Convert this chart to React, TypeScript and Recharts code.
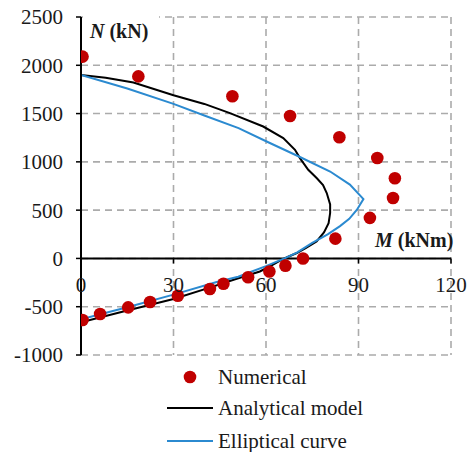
import React from "react";
import {
  ComposedChart,
  Line,
  Scatter,
  XAxis,
  YAxis,
  CartesianGrid,
  ReferenceLine,
  Legend,
  Customized,
} from "recharts";

// ---- data ----
const numericalM = [0.5, 18.6, 49.1, 67.8, 83.8, 96.1, 101.8, 101.2, 93.7, 82.5, 72, 66.3, 61.1, 54.2, 46.2, 41.8, 31.4, 22.4, 15.3, 6.2, 0.5];
const numericalN = [2090, 1885, 1680, 1475, 1255, 1040, 830, 625, 420, 205, 0, -75, -135, -195, -262, -317, -386, -451, -507, -576, -638];

const analyticalM = [0, 8, 17, 30, 40, 48.3, 59.1, 65.6, 69.4, 71, 73.7, 76.5, 78.5, 79.7, 80.8, 80.8, 80.3, 78.8, 76.4, 73, 70, 67, 65, 62, 58, 50, 42, 30, 15, 0];
const analyticalN = [1900, 1870, 1822, 1690, 1600, 1505, 1366, 1246, 1125, 1039, 918, 830, 760, 677, 560, 470, 366, 270, 176, 110, 56, 15, -15, -70, -135, -215, -300, -420, -540, -660];

const ellipticalM = [0, 15, 30, 40, 51.1, 60.2, 71, 80.8, 87.2, 91.6, 89.5, 87, 84, 80, 75, 70, 66, 60, 55, 51, 44, 30, 15, 0];
const ellipticalN = [1900, 1760, 1601, 1480, 1350, 1211, 1050, 900, 765, 615, 505, 410, 335, 250, 160, 60, 0, -80, -140, -190, -245, -375, -505, -630];

const xTicks = [0, 30, 60, 90, 120];
const yTicks = [-1000, -500, 0, 500, 1000, 1500, 2000, 2500];
const X_DOMAIN: [number, number] = [0, 120];
const Y_DOMAIN: [number, number] = [-1000, 2500];

const zip = (xs: number[], ys: number[]) => xs.map((x, i) => ({ x, y: ys[i] }));
const numericalData = zip(numericalM, numericalN);
const analyticalData = zip(analyticalM, analyticalN);
const ellipticalData = zip(ellipticalM, ellipticalN);

// ---- layout ----
const W = 469;
const H = 455;
const PLOT_TOP = 17;
const PLOT_BOTTOM = 355;
const PLOT_LEFT = 81;
const PLOT_RIGHT = 451;
const X_AXIS_H = 1;
const FONT = "'Liberation Serif', 'Times New Roman', serif";
const TEXT = "#1a1a1a";
const RED = "#C00000";
const BLUE = "#2B8AD0";

const zeroOffset = ((PLOT_BOTTOM - PLOT_TOP) * (0 - Y_DOMAIN[0])) / (Y_DOMAIN[1] - Y_DOMAIN[0]);

const XTick = (props: any) => {
  const { x, y, payload } = props;
  const zy = y - zeroOffset;
  return (
    <g>
      <line x1={x} x2={x} y1={zy} y2={zy + 5} stroke="#000" strokeWidth={1.5} />
      <text x={x} y={zy + 34} textAnchor="middle" fontSize={21} fontFamily={FONT} fill={TEXT}>
        {payload.value}
      </text>
    </g>
  );
};

const AxisTitles = () => (
  <g>
    <rect x={PLOT_LEFT + 2} y={8} width={76} height={30} fill="#fff" />
    <text x={90} y={38} fontSize={20} fontFamily={FONT} fontWeight="bold" fill={TEXT}>
      <tspan fontStyle="italic">N</tspan>
      <tspan> (kN)</tspan>
    </text>
    <text x={375} y={247} fontSize={20} fontFamily={FONT} fontWeight="bold" fill={TEXT}>
      <tspan fontStyle="italic">M</tspan>
      <tspan> (kNm)</tspan>
    </text>
  </g>
);

const LegendContent = () => (
  <svg width={W} height={92} style={{ display: "block" }}>
    <circle cx={190} cy={17} r={6.3} fill={RED} />
    <text x={218} y={17} dominantBaseline="central" fontSize={21} fontFamily={FONT} fill={TEXT}>
      Numerical
    </text>
    <line x1={167} x2={213} y1={48} y2={48} stroke="#000" strokeWidth={2} />
    <text x={218} y={48} dominantBaseline="central" fontSize={21} fontFamily={FONT} fill={TEXT}>
      Analytical model
    </text>
    <line x1={167} x2={213} y1={81} y2={81} stroke={BLUE} strokeWidth={2} />
    <text x={218} y={81} dominantBaseline="central" fontSize={21} fontFamily={FONT} fill={TEXT}>
      Elliptical curve
    </text>
  </svg>
);

export default function App() {
  return (
    <div style={{ position: "absolute", left: 0, top: 0, width: W, height: H, background: "#fff" }}>
      <ComposedChart
        width={W}
        height={H}
        margin={{ top: PLOT_TOP, right: W - PLOT_RIGHT, bottom: H - PLOT_BOTTOM - X_AXIS_H, left: 0 }}
      >
        <CartesianGrid stroke="#ABABAB" strokeWidth={1.6} strokeDasharray="7 5" />
        <XAxis
          type="number"
          dataKey="x"
          domain={X_DOMAIN}
          ticks={xTicks}
          allowDataOverflow
          height={X_AXIS_H}
          axisLine={false}
          tickLine={false}
          tickSize={0}
          tickMargin={0}
          tick={(p: any) => <XTick {...p} />}
          interval={0}
        />
        <YAxis
          type="number"
          dataKey="y"
          domain={Y_DOMAIN}
          ticks={yTicks}
          allowDataOverflow
          width={PLOT_LEFT}
          axisLine={{ stroke: "#000", strokeWidth: 2 }}
          tickLine={{ stroke: "#000", strokeWidth: 1.5 }}
          tickSize={5}
          tickMargin={13}
          interval={0}
          tick={{ fontSize: 21, fontFamily: FONT, fill: TEXT }}
        />
        <ReferenceLine y={0} stroke="#000" strokeWidth={2} />
        <Customized component={AxisTitles} />
        <Line
          data={analyticalData}
          dataKey="y"
          type="linear"
          stroke="#000"
          strokeWidth={2}
          dot={false}
          activeDot={false}
          isAnimationActive={false}
          name="Analytical model"
        />
        <Line
          data={ellipticalData}
          dataKey="y"
          type="linear"
          stroke={BLUE}
          strokeWidth={2}
          dot={false}
          activeDot={false}
          isAnimationActive={false}
          name="Elliptical curve"
        />
        <Scatter
          data={numericalData}
          dataKey="y"
          fill={RED}
          isAnimationActive={false}
          name="Numerical"
          shape={(p: any) => <circle cx={p.cx} cy={p.cy} r={6.3} fill={RED} />}
        />
        <Legend
          layout="vertical"
          align="center"
          verticalAlign="middle"
          content={<LegendContent />}
          wrapperStyle={{ position: "absolute", top: 360, left: 0, width: W }}
        />
      </ComposedChart>
    </div>
  );
}
